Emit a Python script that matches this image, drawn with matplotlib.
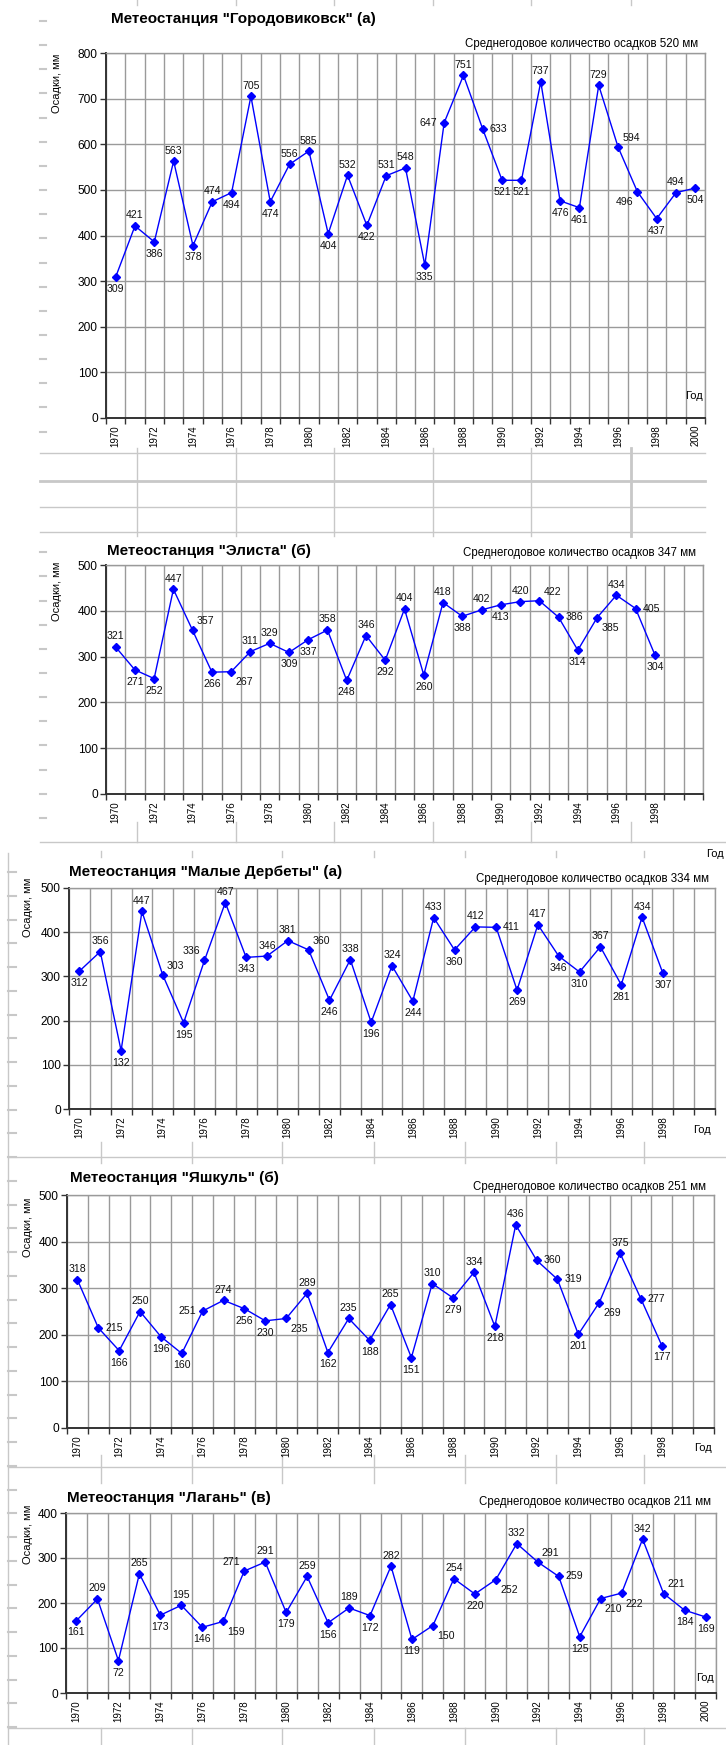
import matplotlib
matplotlib.use("Agg")
import matplotlib.pyplot as plt
from matplotlib.lines import Line2D

plt.rcParams["font.family"] = ["Liberation Sans", "DejaVu Sans"]

W, H = 726, 1745

years_full = list(range(1970, 2001))
years_short = list(range(1970, 1999))

gorodovikovsk = [309, 421, 386, 563, 378, 474, 494, 705, 474, 556, 585, 404, 532, 422, 531, 548,
                 335, 647, 751, 633, 521, 521, 737, 476, 461, 729, 594, 496, 437, 494, 504]
elista = [321, 271, 252, 447, 357, 266, 267, 311, 329, 309, 337, 358, 248, 346, 292, 404,
          260, 418, 388, 402, 413, 420, 422, 386, 314, 385, 434, 405, 304]
malye_derbety = [312, 356, 132, 447, 303, 195, 336, 467, 343, 346, 381, 360, 246, 338, 196, 324,
                 244, 433, 360, 412, 411, 269, 417, 346, 310, 367, 281, 434, 307]
yashkul = [318, 215, 166, 250, 196, 160, 251, 274, 256, 230, 235, 289, 162, 235, 188, 265,
           151, 310, 279, 334, 218, 436, 360, 319, 201, 269, 375, 277, 177]
lagan = [161, 209, 72, 265, 173, 195, 146, 159, 271, 291, 179, 259, 156, 189, 172, 282,
         119, 150, 254, 220, 252, 332, 291, 259, 125, 210, 222, 342, 221, 184, 169]

titles = ['Метеостанция "Городовиковск" (а)', 'Метеостанция "Элиста" (б)',
          'Метеостанция "Малые Дербеты" (а)', 'Метеостанция "Яшкуль" (б)',
          'Метеостанция "Лагань" (в)']
mean_values = [520, 347, 334, 251, 211]
y_max = [800, 500, 500, 500, 400]
last_year_label = [2000, 1998, 1998, 1998, 2000]

# where each point label sits relative to its marker
placements = [
    "b a b a b a b a b a a b a b a a b l a r b b a b b a ar bl b a b",
    "a b b a ar b br a a b b a b a b a b a b a b a ar r b br a r b",
    "b a b a ar b al a b a a ar b a b a b a b a r b a b b a b a b",
    "a r b a b b l a b b br a b a b a b a b a b a r r b br a r b",
    "b a b a b a b br al a b a b a b a b br a b br a ar r b br br a ar b b",
]

# panel geometry in pixels: axes left, top, right, bottom
panels = [
    dict(box=(106, 53, 705, 418), title=(111, 19), mean=(698, 44), god=(703, 396), ylab=(57, 83)),
    dict(box=(106, 565, 703, 794), title=(107, 551), mean=(696, 553), god=(724, 854), ylab=(57, 591)),
    dict(box=(69, 888, 715, 1109), title=(69, 872), mean=(709, 879), god=(711, 1130), ylab=(28, 907)),
    dict(box=(67, 1195, 714, 1428), title=(70, 1178), mean=(706, 1187), god=(712, 1448), ylab=(28, 1227)),
    dict(box=(66, 1513, 716, 1693), title=(67, 1498), mean=(711, 1502), god=(714, 1678), ylab=(28, 1534)),
]

OFFSETS = {
    "a": ((0, 4), "center", "bottom"),
    "b": ((0, -5), "center", "top"),
    "r": ((5, 0), "left", "center"),
    "l": ((-5, 0), "right", "center"),
    "ar": ((3, 3), "left", "bottom"),
    "al": ((-3, 3), "right", "bottom"),
    "br": ((3, -4), "left", "top"),
    "bl": ((-3, -4), "right", "top"),
}

GRID = "#9a9a9a"
SHEET = "#c8c8c8"


def fx(x):
    return x / W


def fy(y):
    return 1 - y / H


def sheet_line(fig, x0, y0, x1, y1, color=SHEET, lw=1.0):
    fig.add_artist(Line2D([fx(x0), fx(x1)], [fy(y0), fy(y1)], transform=fig.transFigure,
                          color=color, lw=lw, zorder=0))


def draw_panel(fig, geo, years, values, place, title, mean, ymax, last_label):
    left, top, right, bottom = geo["box"]
    ax = fig.add_axes([fx(left), fy(bottom), fx(right - left), (bottom - top) / H])

    ax.plot(years, values, color="#0000ff", lw=1.0, marker="D", markersize=4, zorder=3)
    for year, val, code in zip(years, values, place.split()):
        offset, ha, va = OFFSETS[code]
        ax.annotate(str(val), (year, val), xytext=offset, textcoords="offset points",
                    ha=ha, va=va, fontsize=7.6, color="#111111", zorder=4)

    ax.set_xlim(1969.5, 2000.5)
    ax.set_ylim(0, ymax)
    ax.set_yticks(range(0, ymax + 1, 100))
    ax.set_xticks([y + 0.5 for y in range(1969, 2001)])
    ax.set_xticklabels([])
    label_years = list(range(1970, last_label + 1, 2))
    ax.set_xticks(label_years, minor=True)
    ax.set_xticklabels([str(y) for y in label_years], minor=True, rotation=90, fontsize=7)
    ax.tick_params(axis="x", which="major", length=4, width=1, color="#333333", direction="out")
    ax.tick_params(axis="x", which="minor", length=0, pad=5)
    ax.tick_params(axis="y", length=4, width=1, color="#333333", labelsize=8.6, pad=2)

    ax.grid(True, which="major", color=GRID, lw=1.0)
    ax.set_axisbelow(True)
    for side in ("left", "bottom"):
        ax.spines[side].set_color("#333333")
        ax.spines[side].set_linewidth(1.4)
    for side in ("top", "right"):
        ax.spines[side].set_color(GRID)
        ax.spines[side].set_linewidth(1.0)

    tx, ty = geo["title"]
    fig.text(fx(tx), fy(ty), title, fontsize=11, fontweight="bold", ha="left", va="center")
    mx, my = geo["mean"]
    fig.text(fx(mx), fy(my), f"Среднегодовое количество осадков {mean} мм",
             fontsize=8.3, ha="right", va="center")
    gx, gy = geo["god"]
    fig.text(fx(gx), fy(gy), "Год", fontsize=8, ha="right", va="center")
    lx, ly = geo["ylab"]
    fig.text(fx(lx), fy(ly), "Осадки, мм", fontsize=8, rotation=90, ha="center", va="center")
    return ax


fig = plt.figure(figsize=(W / 100, H / 100), dpi=100)

# worksheet background: row markers and cell borders
cols_top = [137, 236, 334, 433, 531, 631]
cols_low = [101, 192, 282, 374, 465, 556, 644]
y = 21.0
while y < 830:
    if not 440 < y < 540:
        sheet_line(fig, 40, y, 46, y, lw=1.5)
    y += 24.15
y = 872.0
while y < 1740:
    sheet_line(fig, 8, y, 16, y, lw=1.5)
    y += 23.75
for x in cols_top:
    sheet_line(fig, x, 0, x, 5)
    sheet_line(fig, x, 448, x, 536, lw=2.0 if x == 631 else 1.0)
    sheet_line(fig, x, 822, x, 842)
for yy, lw in [(453, 1.0), (481, 2.0), (507, 1.0), (532, 1.0)]:
    sheet_line(fig, 40, yy, 705, yy, lw=lw)
sheet_line(fig, 40, 842, 726, 842)
sheet_line(fig, 8, 853, 8, 1745)
for yy in (1157, 1467, 1728):
    sheet_line(fig, 8, yy, 726, yy)
for x in cols_low:
    sheet_line(fig, x, 851, x, 857)
    sheet_line(fig, x, 1142, x, 1163)
    sheet_line(fig, x, 1455, x, 1483)
    sheet_line(fig, x, 1728, x, 1745)

series = [
    (years_full, gorodovikovsk),
    (years_short, elista),
    (years_short, malye_derbety),
    (years_short, yashkul),
    (years_full, lagan),
]
for i, (yrs, vals) in enumerate(series):
    draw_panel(fig, panels[i], yrs, vals, placements[i], titles[i], mean_values[i],
               y_max[i], last_year_label[i])

fig.savefig("out.png", dpi=100)
